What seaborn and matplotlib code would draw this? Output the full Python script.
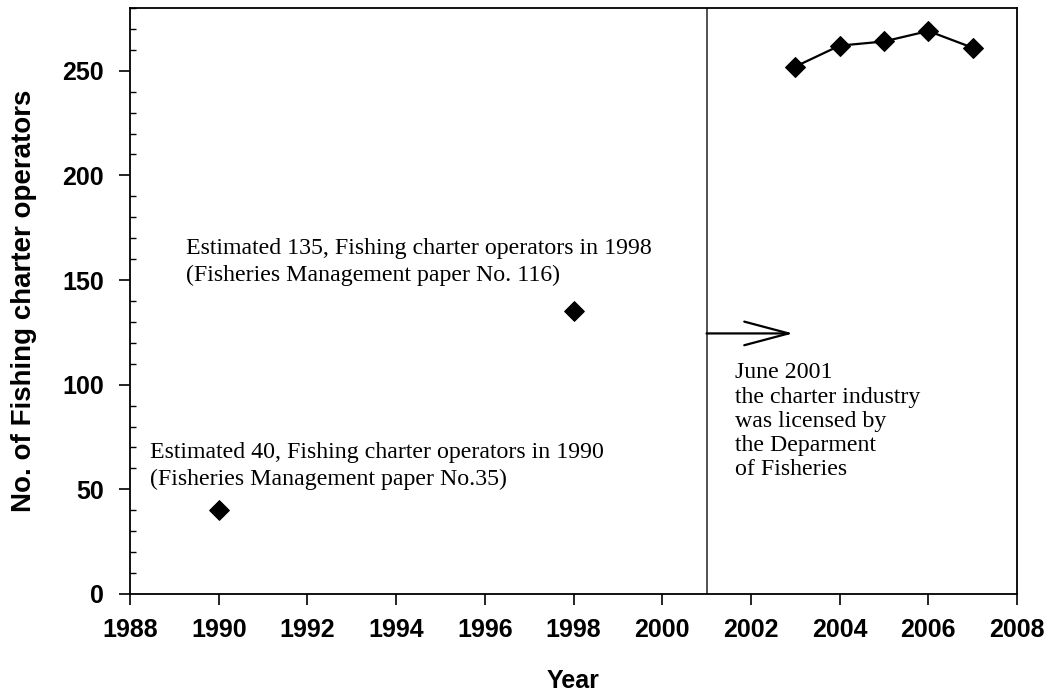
import pandas as pd
import matplotlib
matplotlib.use('Agg')
import matplotlib.pyplot as plt
from matplotlib.ticker import MultipleLocator
import seaborn as sns

# isolated estimates
est_years = [1990, 1998]
est_counts = [40, 135]

# licensed operators after 2001
lic_years = [2003, 2004, 2005, 2006, 2007]
lic_counts = [252, 262, 264, 269, 261]

x_ticks = [1988, 1990, 1992, 1994, 1996, 1998, 2000, 2002, 2004, 2006, 2008]
y_ticks = [0, 50, 100, 150, 200, 250]

sns.set_style('ticks')
plt.rcParams['font.family'] = ['Liberation Sans', 'DejaVu Sans']
plt.rcParams.update({'text.color': 'black', 'axes.labelcolor': 'black',
                     'xtick.color': 'black', 'ytick.color': 'black'})

fig, ax = plt.subplots(figsize=(10.49, 6.94), dpi=100)
fig.subplots_adjust(left=0.124, right=0.9695, top=0.9885, bottom=0.1441)

est = pd.DataFrame({'Year': est_years, 'Count': est_counts})
lic = pd.DataFrame({'Year': lic_years, 'Count': lic_counts})

sns.scatterplot(data=est, x='Year', y='Count', marker='D', s=100,
                color='black', edgecolor='black', ax=ax, zorder=3)
sns.lineplot(data=lic, x='Year', y='Count', marker='D', markersize=10,
             color='black', linewidth=1.6, markeredgecolor='black', ax=ax, zorder=3)

ax.axvline(2001, color='#333333', linewidth=1.2)
ax.annotate('', xy=(2002.95, 124.5), xytext=(2001, 124.5),
            arrowprops=dict(arrowstyle='->,head_length=3.2,head_width=0.85',
                            color='black', linewidth=1.6,
                            shrinkA=0, shrinkB=0))

serif = ['Liberation Serif', 'DejaVu Serif']
ax.text(1989.27, 170.3, 'Estimated 135, Fishing charter operators in 1998\n'
        '(Fisheries Management paper No. 116)',
        family=serif, fontsize=17.2, va='top', ha='left', linespacing=1.37)
ax.text(1988.45, 72.5, 'Estimated 40, Fishing charter operators in 1990\n'
        '(Fisheries Management paper No.35)',
        family=serif, fontsize=17.2, va='top', ha='left', linespacing=1.37)
ax.text(2001.65, 110.7, 'June 2001\nthe charter industry\nwas licensed by\n'
        'the Deparment\nof Fisheries',
        family=serif, fontsize=17.2, va='top', ha='left', linespacing=1.2)

ax.set_xlim(1988, 2008)
ax.set_ylim(0, 280)
ax.set_xticks(x_ticks)
ax.set_yticks(y_ticks)
ax.yaxis.set_minor_locator(MultipleLocator(10))
ax.tick_params(axis='both', which='major', direction='out', length=8,
               width=1.2, labelsize=18, colors='black')
ax.tick_params(axis='x', which='major', pad=9)
ax.tick_params(axis='y', which='major', pad=11)
ax.tick_params(axis='y', which='minor', direction='in', length=4, width=1,
               colors='black')
for lbl in ax.get_xticklabels() + ax.get_yticklabels():
    lbl.set_fontweight('bold')

for sp in ax.spines.values():
    sp.set_linewidth(1.3)
    sp.set_color('black')

ax.set_xlabel('Year', fontsize=18, fontweight='bold', labelpad=20, color='black')
ax.set_ylabel('No. of Fishing charter operators', fontsize=20,
              fontweight='bold', labelpad=18, color='black')

fig.savefig('out.png', dpi=100)
